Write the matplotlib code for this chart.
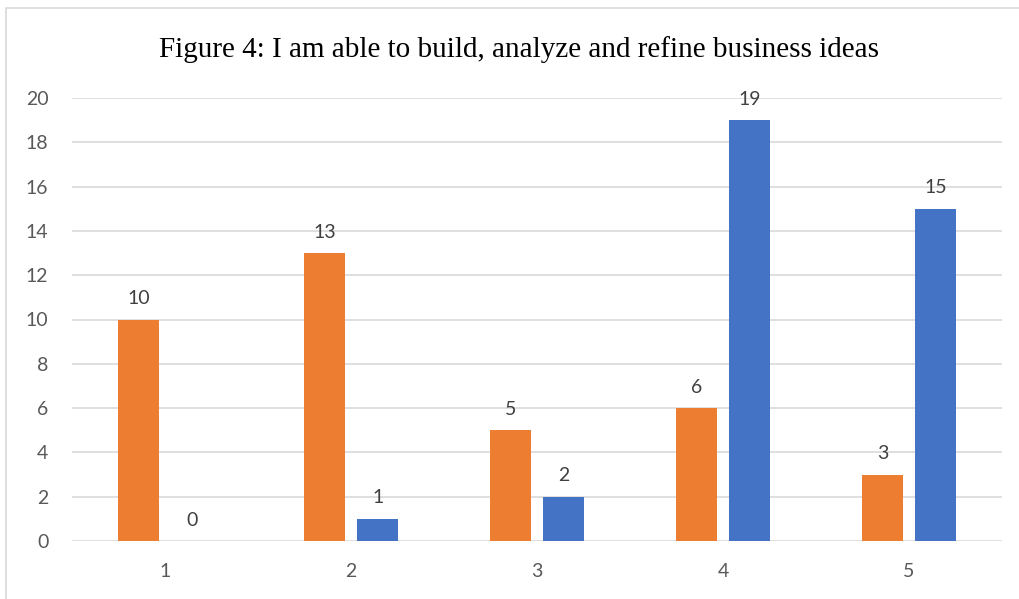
import numpy as np
import matplotlib.pyplot as plt
from matplotlib.patches import Rectangle

# Response counts per rating level
categories = ['1', '2', '3', '4', '5']
series_a = [10, 13, 5, 6, 3]
series_b = [0, 1, 2, 19, 15]
y_ticks = [0, 2, 4, 6, 8, 10, 12, 14, 16, 18, 20]

orange = '#ED7D31'
blue = '#4472C4'
text_gray = '#595959'

fig = plt.figure(figsize=(10.2, 5.99), dpi=100)
ax = fig.add_axes([72 / 1020, 58 / 599, 930 / 1020, 443 / 599])

# chart border
fig.patches.append(Rectangle((6 / 1020, -0.1), 1.2, (599 - 8) / 599 + 0.1,
                             transform=fig.transFigure, fill=False,
                             edgecolor='#d9d9d9', linewidth=1.2))

x = np.arange(len(categories))
w = 0.22
off = 0.143
bars_a = ax.bar(x - off, series_a, width=w, color=orange, zorder=3)
bars_b = ax.bar(x + off, series_b, width=w, color=blue, zorder=3)

for bars, vals in ((bars_a, series_a), (bars_b, series_b)):
    for b, v in zip(bars, vals):
        ax.annotate(str(v), (b.get_x() + b.get_width() / 2, v),
                    xytext=(0, 9), textcoords='offset points',
                    ha='center', va='bottom', fontsize=14,
                    color='#404040', family='Lato')

ax.set_xlim(-0.5, len(categories) - 0.5)
ax.set_ylim(0, 20)
ax.set_yticks(y_ticks)
ax.set_xticks(x)
ax.set_xticklabels(categories)
ax.grid(axis='y', color='#d9d9d9', linewidth=1.2, zorder=0)
ax.tick_params(length=0, labelsize=14, labelcolor=text_gray)
ax.tick_params(axis='x', pad=16)
ax.tick_params(axis='y', pad=17)
for lab in ax.get_xticklabels() + ax.get_yticklabels():
    lab.set_family('Lato')
for s in ax.spines.values():
    s.set_visible(False)

fig.text(519 / 1020, 1 - 50 / 599,
         'Figure 4: I am able to build, analyze and refine business ideas',
         ha='center', va='center', fontsize=21, family='Liberation Serif',
         color='black')

fig.savefig('out.png', dpi=100)
